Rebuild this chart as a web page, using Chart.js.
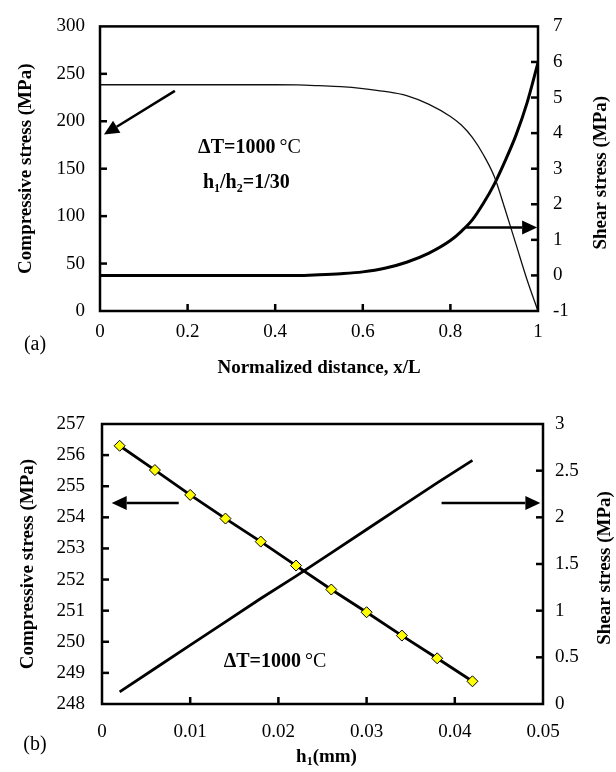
<!DOCTYPE html>
<html>
<head>
<meta charset="utf-8">
<script src="https://cdn.jsdelivr.net/npm/chart.js@4.4.0/dist/chart.umd.min.js"></script>
<style>
  html, body { margin: 0; padding: 0; background: #fff; }
  .panel { position: absolute; left: 0; width: 616px; }
  #wrapA { top: 0; height: 390px; }
  #wrapB { top: 390px; height: 382px; }
</style>
</head>
<body>
<div class="panel" id="wrapA"><canvas id="chartA" width="616" height="390"></canvas></div>
<div class="panel" id="wrapB"><canvas id="chartB" width="616" height="382"></canvas></div>
<script>
// (a) stresses along the normalized distance
const distanceX = [0, 0.05, 0.1, 0.15, 0.2, 0.25, 0.3, 0.35, 0.4, 0.45, 0.5, 0.55, 0.6, 0.65,
  0.7, 0.75, 0.8, 0.825, 0.85, 0.875, 0.9, 0.925, 0.95, 0.975, 1];
const compressiveA = [238.5, 238.5, 238.5, 238.5, 238.5, 238.5, 238.5, 238.5, 238.5, 238.3, 237.5,
  236.5, 234.5, 231.5, 227, 218, 205, 196, 183, 165, 142, 107, 70, 33, 0];
const shearA = [0, 0, 0, 0, 0, 0, 0, 0, 0, 0, 0.02, 0.05, 0.1, 0.2, 0.37, 0.62, 0.98, 1.24,
  1.56, 2.02, 2.56, 3.22, 3.95, 4.85, 5.98];
const distanceTicks = [0, 0.2, 0.4, 0.6, 0.8, 1];
const compressiveTicksA = [0, 50, 100, 150, 200, 250, 300];
const shearTicksA = [-1, 0, 1, 2, 3, 4, 5, 6, 7];

// (b) stresses against layer thickness h1
const thicknessH = [0.002, 0.006, 0.01, 0.014, 0.018, 0.022, 0.026, 0.03, 0.034, 0.038, 0.042];
const compressiveB = [256.3, 255.52, 254.72, 253.96, 253.22, 252.45, 251.68, 250.95, 250.2, 249.47, 248.73];
const shearB = [0.13, 0.38, 0.63, 0.88, 1.13, 1.37, 1.62, 1.87, 2.12, 2.37, 2.61];
const thicknessTicks = [0, 0.01, 0.02, 0.03, 0.04, 0.05];
const compressiveTicksB = [248, 249, 250, 251, 252, 253, 254, 255, 256, 257];
const shearTicksB = [0, 0.5, 1, 1.5, 2, 2.5, 3];

const FAMILY = "'Liberation Serif', 'Times New Roman', serif";
Chart.defaults.font.family = FAMILY;
Chart.defaults.color = "#000";

const toPoints = (xs, ys) => xs.map((x, i) => ({ x, y: ys[i] }));
const fixedTicks = (values) => (scale) => {
  scale.ticks = values.map((value) => ({ value }));
};

function runFont(run, size) {
  const s = run.sub ? Math.round(size * 0.62) : size;
  return `${run.bold ? "bold " : ""}${s}px ${FAMILY}`;
}

function drawRuns(ctx, runs, x, y, size, align) {
  const widths = runs.map((r) => {
    ctx.font = runFont(r, size);
    return ctx.measureText(r.t).width;
  });
  const total = widths.reduce((a, b) => a + b, 0);
  let cx = align === "center" ? x - total / 2 : x;
  ctx.textAlign = "left";
  ctx.textBaseline = "middle";
  runs.forEach((r, i) => {
    ctx.font = runFont(r, size);
    ctx.fillText(r.t, cx, y + (r.sub ? size * 0.28 : 0));
    cx += widths[i];
  });
}

function drawArrow(ctx, x1, y1, x2, y2) {
  const ang = Math.atan2(y2 - y1, x2 - x1);
  const head = 15;
  const half = 7;
  const bx = x2 - head * Math.cos(ang);
  const by = y2 - head * Math.sin(ang);
  ctx.lineWidth = 2.5;
  ctx.beginPath();
  ctx.moveTo(x1, y1);
  ctx.lineTo(bx, by);
  ctx.stroke();
  ctx.beginPath();
  ctx.moveTo(x2, y2);
  ctx.lineTo(bx + half * Math.sin(ang), by - half * Math.cos(ang));
  ctx.lineTo(bx - half * Math.sin(ang), by + half * Math.cos(ang));
  ctx.closePath();
  ctx.fill();
}

// frame with inward tick marks
const frameTicks = {
  id: "frameTicks",
  afterDatasetsDraw(chart) {
    const { ctx, chartArea: a, scales } = chart;
    ctx.save();
    ctx.strokeStyle = "#000";
    ctx.lineWidth = 2.5;
    const len = 7;
    scales.x.ticks.forEach((t) => {
      if (t.value === scales.x.min || t.value === scales.x.max) return;
      const px = scales.x.getPixelForValue(t.value);
      ctx.beginPath();
      ctx.moveTo(px, a.bottom);
      ctx.lineTo(px, a.bottom - len);
      ctx.stroke();
    });
    ["y", "y1"].forEach((id) => {
      const s = scales[id];
      s.ticks.forEach((t) => {
        if (t.value === s.min || t.value === s.max) return;
        const py = s.getPixelForValue(t.value);
        const edge = id === "y" ? a.left : a.right;
        ctx.beginPath();
        ctx.moveTo(edge, py);
        ctx.lineTo(id === "y" ? edge + len : edge - len, py);
        ctx.stroke();
      });
    });
    ctx.strokeRect(a.left, a.top, a.right - a.left, a.bottom - a.top);
    ctx.restore();
  },
};

// arrows, in-plot labels, panel tag, extra axis titles
const notes = {
  id: "notes",
  afterDraw(chart, args, opts) {
    const { ctx, chartArea: a, scales } = chart;
    ctx.save();
    ctx.fillStyle = "#000";
    ctx.strokeStyle = "#000";
    (opts.arrows || []).forEach((ar) => {
      const s = scales[ar.axis];
      drawArrow(ctx,
        scales.x.getPixelForValue(ar.from[0]), s.getPixelForValue(ar.from[1]),
        scales.x.getPixelForValue(ar.to[0]), s.getPixelForValue(ar.to[1]));
    });
    (opts.labels || []).forEach((lb) => {
      drawRuns(ctx, lb.runs, scales.x.getPixelForValue(lb.at[0]),
        scales.y.getPixelForValue(lb.at[1]), lb.size, "left");
    });
    if (opts.tag) {
      drawRuns(ctx, [{ t: opts.tag }], 35, a.bottom + opts.tagDy, 20, "center");
    }
    if (opts.xTitle) {
      drawRuns(ctx, opts.xTitle, (a.left + a.right) / 2 + 4, opts.xTitleY, 19, "center");
    }
    if (opts.rightTitle) {
      ctx.save();
      ctx.translate(opts.rightTitleX, (a.top + a.bottom) / 2 + 4);
      ctx.rotate(-Math.PI / 2);
      drawRuns(ctx, [{ t: opts.rightTitle, bold: true }], 0, 0, 19, "center");
      ctx.restore();
    }
    ctx.restore();
  },
};

const tickFont = { size: 19, family: FAMILY };
const titleFont = { size: 19, weight: "bold", family: FAMILY };

new Chart(document.getElementById("chartA"), {
  type: "line",
  data: {
    datasets: [
      {
        label: "Compressive stress",
        data: toPoints(distanceX, compressiveA),
        yAxisID: "y",
        borderColor: "#111",
        borderWidth: 1.3,
        pointRadius: 0,
        cubicInterpolationMode: "monotone",
      },
      {
        label: "Shear stress",
        data: toPoints(distanceX, shearA),
        yAxisID: "y1",
        borderColor: "#000",
        borderWidth: 3,
        pointRadius: 0,
        cubicInterpolationMode: "monotone",
      },
    ],
  },
  options: {
    responsive: false,
    animation: false,
    layout: { padding: { top: 16, left: 0, right: 0, bottom: 0 } },
    plugins: {
      legend: { display: false },
      tooltip: { enabled: false },
      notes: {
        arrows: [
          { axis: "y", from: [0.171, 232], to: [0.009, 186] },
          { axis: "y1", from: [0.836, 1.35], to: [0.998, 1.35] },
        ],
        labels: [
          { at: [0.224, 172], size: 20, runs: [{ t: "ΔT=1000", bold: true }, { t: "\u2009°C" }] },
          {
            at: [0.235, 135], size: 20,
            runs: [
              { t: "h", bold: true }, { t: "1", bold: true, sub: true },
              { t: "/h", bold: true }, { t: "2", bold: true, sub: true },
              { t: "=1/30", bold: true },
            ],
          },
        ],
        tag: "(a)",
        tagDy: 34,
        rightTitle: "Shear stress (MPa)",
        rightTitleX: 601,
      },
    },
    scales: {
      x: {
        type: "linear",
        min: 0,
        max: 1,
        grid: { display: false, drawTicks: false },
        border: { display: false },
        afterBuildTicks: fixedTicks(distanceTicks),
        afterFit: (s) => { s.height = 79; },
        ticks: { font: tickFont, padding: 10, maxRotation: 0, callback: (v) => String(v) },
        title: { display: true, text: "Normalized distance, x/L", font: titleFont, padding: { bottom: 11 } },
      },
      y: {
        position: "left",
        min: 0,
        max: 300,
        grid: { display: false, drawTicks: false },
        border: { display: false },
        afterBuildTicks: fixedTicks(compressiveTicksA),
        afterFit: (s) => { s.width = 100; },
        ticks: { font: tickFont, padding: 15, callback: (v) => String(v) },
        title: { display: true, text: "Compressive stress (MPa)", font: titleFont, padding: { top: 15 } },
      },
      y1: {
        position: "right",
        min: -1,
        max: 7,
        grid: { display: false, drawTicks: false },
        border: { display: false },
        afterBuildTicks: fixedTicks(shearTicksA),
        afterFit: (s) => { s.width = 78; },
        ticks: { font: tickFont, padding: 15, callback: (v) => String(v) },
      },
    },
  },
  plugins: [frameTicks, notes],
});

new Chart(document.getElementById("chartB"), {
  type: "line",
  data: {
    datasets: [
      {
        label: "Compressive stress",
        data: toPoints(thicknessH, compressiveB),
        yAxisID: "y",
        borderColor: "#000",
        borderWidth: 2.8,
        pointStyle: "rectRot",
        pointRadius: 5.5,
        pointBackgroundColor: "#ffff00",
        pointBorderColor: "#000",
        pointBorderWidth: 1,
      },
      {
        label: "Shear stress",
        data: toPoints(thicknessH, shearB),
        yAxisID: "y1",
        borderColor: "#000",
        borderWidth: 2.8,
        pointRadius: 0,
      },
    ],
  },
  options: {
    responsive: false,
    animation: false,
    layout: { padding: { top: 34, left: 0, right: 0, bottom: 0 } },
    plugins: {
      legend: { display: false },
      tooltip: { enabled: false },
      notes: {
        arrows: [
          { axis: "y", from: [0.0087, 254.46], to: [0.0011, 254.46] },
          { axis: "y", from: [0.0385, 254.46], to: [0.0497, 254.46] },
        ],
        labels: [
          { at: [0.0138, 249.35], size: 20, runs: [{ t: "ΔT=1000", bold: true }, { t: "\u2009°C" }] },
        ],
        tag: "(b)",
        tagDy: 41,
        xTitle: [{ t: "h", bold: true }, { t: "1", bold: true, sub: true }, { t: "(mm)", bold: true }],
        xTitleY: 367,
        rightTitle: "Shear stress (MPa)",
        rightTitleX: 605,
      },
    },
    scales: {
      x: {
        type: "linear",
        min: 0,
        max: 0.05,
        grid: { display: false, drawTicks: false },
        border: { display: false },
        afterBuildTicks: fixedTicks(thicknessTicks),
        afterFit: (s) => { s.height = 68; },
        ticks: { font: tickFont, padding: 17, maxRotation: 0, callback: (v) => String(v) },
      },
      y: {
        position: "left",
        min: 248,
        max: 257,
        grid: { display: false, drawTicks: false },
        border: { display: false },
        afterBuildTicks: fixedTicks(compressiveTicksB),
        afterFit: (s) => { s.width = 102; },
        ticks: { font: tickFont, padding: 17, callback: (v) => String(v) },
        title: { display: true, text: "Compressive stress (MPa)", font: titleFont, padding: { top: 17 } },
      },
      y1: {
        position: "right",
        min: 0,
        max: 3,
        grid: { display: false, drawTicks: false },
        border: { display: false },
        afterBuildTicks: fixedTicks(shearTicksB),
        afterFit: (s) => { s.width = 73; },
        ticks: { font: tickFont, padding: 12, callback: (v) => String(v) },
      },
    },
  },
  plugins: [frameTicks, notes],
});
</script>
</body>
</html>
